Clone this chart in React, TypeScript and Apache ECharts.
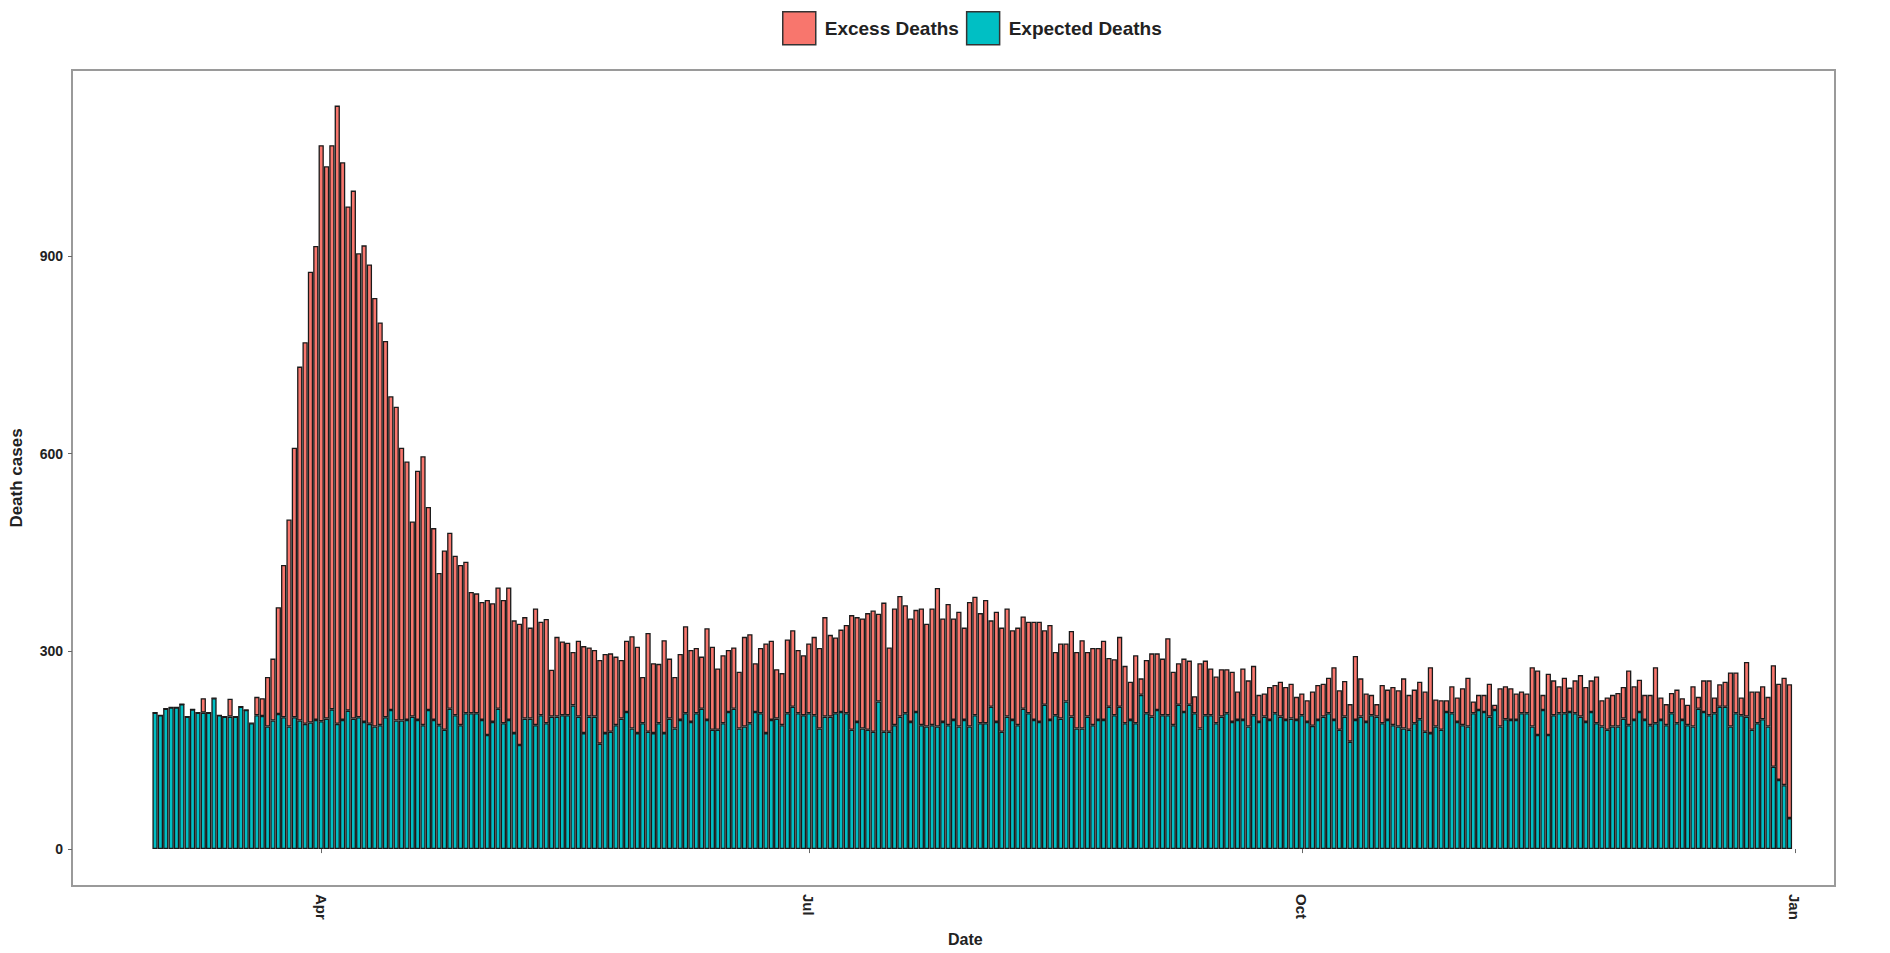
import React, { useEffect, useRef } from "react";
import * as echarts from "echarts";

// ---- data (daily, 2020-03-01 .. 2020-12-31) ----
const FIRST_DAY = "2020-03-01";
const PAD_BEFORE = 15;
const PAD_AFTER = 8;

const TICK_DATES = ["2020-04-01", "2020-07-01", "2020-10-01", "2021-01-01"];
const TICK_LABELS = ["Apr", "Jul", "Oct", "Jan"];
const Y_TICKS = [0, 300, 600, 900];

const EXPECTED = [
  207, 203, 213, 215, 215, 220, 201, 212, 207, 207, 207, 229, 203, 201, 201, 201, 216, 211, 191, 203, 202,
  186, 195, 205, 200, 186, 200, 195, 190, 192, 196, 194, 198, 212, 190, 196, 210, 198, 200, 193, 190, 186, 188, 200, 211, 195, 195,
  196, 201, 196, 188, 211, 196, 188, 181, 213, 203, 188, 206, 206, 206, 196, 173, 193, 213, 191, 196,
  176, 158, 198, 198, 188, 203, 191, 201, 201, 203, 203, 218, 201, 176, 201, 201, 160, 176, 178, 188,
  198, 208, 183, 176, 191, 178, 176, 191, 176, 198, 183, 196,
  206, 193, 206, 213, 196, 181, 181, 191, 208, 213, 183, 186, 191, 208, 206, 176, 196, 198, 188, 206,
  216, 206, 203, 206, 203, 183, 201, 201, 206, 208, 206, 181, 193, 183, 181, 178, 224, 178, 178, 188,
  201, 206, 193, 208, 188, 186, 188, 186, 193, 188, 196, 186,
  196, 186, 203, 191, 191, 216, 193, 178, 201, 196, 188, 213, 206, 196, 193, 219, 196, 203, 198, 224,
  201, 183, 183, 201, 188, 196, 196, 216, 203, 216, 191, 196, 191, 234, 206, 201, 211, 203, 203, 188,
  219, 208, 219, 206, 183, 203, 203, 191, 201, 206, 193, 196,
  196, 186, 203, 193, 201, 196, 206, 201, 196, 198, 196, 203, 193, 187, 196, 201, 206, 196, 181, 201,
  163, 196, 201, 193, 203, 201, 191, 196, 188, 186, 183, 181, 191, 197, 178, 176, 186, 181, 208, 206,
  193, 188, 186, 206, 211, 208, 201, 211, 186, 197, 196, 196,
  206, 206, 186, 173, 211, 173, 203, 206, 206, 208, 206, 201, 193, 208, 191, 186, 181, 186, 186, 198,
  188, 196, 208, 196, 188, 191, 196, 188, 206, 191, 196, 188, 186, 213, 208, 203, 206, 216, 216, 186,
  206, 203, 201, 181, 191, 197, 186, 125, 105, 97, 47,
];

const EXCESS = [
  0, 0, 0, 0, 0, 0, 0, 0, 0, 22, 0, 0, 0, 0, 27, 0, 0, 0, 0, 28, 27,
  75, 94, 162, 231, 314, 409, 537, 579, 684, 719, 874, 838, 856, 938, 846, 765, 801, 704, 723, 697, 650, 611, 571, 476, 476, 414,
  392, 296, 378, 408, 308, 291, 231, 272, 267, 242, 243, 230, 184, 182, 179, 205, 180, 184, 187, 201,
  171, 184, 154, 138, 177, 142, 158, 71, 121, 112, 110, 81, 115, 132, 105, 101, 127, 120, 119, 104,
  89, 108, 140, 131, 70, 150, 106, 90, 141, 91, 78, 100,
  132, 109, 99, 79, 139, 126, 93, 103, 94, 93, 86, 136, 135, 74, 99, 136, 120, 75, 79, 112,
  116, 96, 91, 106, 119, 122, 151, 124, 115, 125, 134, 174, 159, 167, 177, 184, 133, 196, 128, 177,
  183, 164, 157, 155, 177, 156, 177, 210, 157, 184, 154, 174,
  140, 189, 180, 167, 187, 131, 167, 158, 164, 136, 148, 140, 139, 149, 152, 113, 144, 96, 114, 88,
  130, 116, 134, 98, 117, 109, 120, 74, 85, 106, 87, 58, 103, 25, 81, 96, 86, 86, 117, 81,
  63, 81, 67, 26, 99, 83, 71, 71, 72, 67, 76, 43,
  78, 70, 75, 41, 35, 50, 43, 53, 50, 53, 35, 33, 33, 52, 53, 50, 54, 80, 60, 54,
  57, 97, 58, 43, 31, 19, 58, 46, 58, 55, 76, 53, 51, 57, 61, 100, 41, 45, 18, 41,
  37, 56, 74, 18, 23, 26, 50, 8, 58, 50, 48, 40,
  33, 30, 90, 98, 23, 93, 53, 41, 54, 37, 50, 63, 53, 48, 71, 40, 49, 48, 51, 48,
  83, 51, 49, 38, 46, 85, 34, 32, 31, 51, 33, 31, 61, 18, 48, 53, 24, 34, 38, 82,
  62, 27, 83, 58, 48, 50, 45, 154, 146, 163, 203,
];

const FONT = "'Liberation Sans', Arial, Helvetica, sans-serif";
const DAY_MS = 86400000;

function buildCategories(): string[] {
  const out: string[] = [];
  const start = Date.parse(FIRST_DAY + "T00:00:00Z") - PAD_BEFORE * DAY_MS;
  const n = PAD_BEFORE + EXPECTED.length + PAD_AFTER;
  for (let i = 0; i < n; i++) {
    out.push(new Date(start + i * DAY_MS).toISOString().slice(0, 10));
  }
  return out;
}

function pad(values: number[]): (number | string)[] {
  const before: string[] = new Array(PAD_BEFORE).fill("-");
  const after: string[] = new Array(PAD_AFTER).fill("-");
  return [...before, ...values, ...after];
}

export default function App() {
  const ref = useRef<HTMLDivElement>(null);

  useEffect(() => {
    if (!ref.current) return;
    const chart = echarts.init(ref.current, undefined, { renderer: "svg" });
    const categories = buildCategories();
    const showTick = (_index: number, value: string) => TICK_DATES.indexOf(value) >= 0;

    chart.setOption({
      animation: false,
      backgroundColor: "#ffffff",
      textStyle: { fontFamily: FONT },
      legend: {
        data: ["Excess Deaths", "Expected Deaths"],
        left: 777,
        top: 6,
        icon: "rect",
        itemWidth: 33,
        itemHeight: 33,
        itemGap: 7,
        itemStyle: { borderColor: "#333333", borderWidth: 1.5 },
        textStyle: {
          fontFamily: FONT,
          fontSize: 19,
          fontWeight: "bold",
          color: "#222222",
          padding: [0, 0, 0, 4],
        },
      },
      grid: {
        left: 64,
        top: 70,
        width: 1771,
        height: 816,
        show: true,
        borderColor: "#9a9a9a",
        borderWidth: 2,
        backgroundColor: "transparent",
      },
      xAxis: {
        type: "category",
        data: categories,
        boundaryGap: true,
        axisLine: { show: false },
        axisTick: {
          show: true,
          interval: showTick,
          alignWithLabel: true,
          length: 4,
          lineStyle: { color: "#666666" },
        },
        axisLabel: {
          interval: showTick,
          rotate: -90,
          margin: 8,
          fontFamily: FONT,
          fontSize: 15,
          fontWeight: "bold",
          color: "#222222",
          formatter: (v: string) => {
            const i = TICK_DATES.indexOf(v);
            return i >= 0 ? TICK_LABELS[i] : "";
          },
        },
        splitLine: { show: false },
      },
      yAxis: {
        type: "value",
        min: -56,
        max: 1182,
        axisLine: { show: false },
        axisTick: {
          show: true,
          customValues: Y_TICKS,
          length: 4,
          lineStyle: { color: "#666666" },
        },
        axisLabel: {
          customValues: Y_TICKS,
          margin: 9,
          fontFamily: FONT,
          fontSize: 14,
          fontWeight: "bold",
          color: "#222222",
        },
        splitLine: { show: false },
        name: "Death cases",
        nameLocation: "middle",
        nameRotate: 90,
        nameGap: 47,
        nameTextStyle: { fontFamily: FONT, fontSize: 17, fontWeight: "bold", color: "#222222" },
      },
      graphic: [
        {
          type: "text",
          left: 948,
          top: 931,
          style: {
            text: "Date",
            font: "bold 16px " + FONT,
            fill: "#222222",
          },
        },
      ],
      series: [
        {
          name: "Expected Deaths",
          type: "bar",
          stack: "deaths",
          data: pad(EXPECTED),
          barCategoryGap: "2%",
          itemStyle: { color: "#00BFC4", borderColor: "#1a1a1a", borderWidth: 1.3 },
        },
        {
          name: "Excess Deaths",
          type: "bar",
          stack: "deaths",
          data: pad(EXCESS),
          barCategoryGap: "2%",
          itemStyle: { color: "#F8766D", borderColor: "#1a1a1a", borderWidth: 1.3 },
        },
      ],
    });

    return () => chart.dispose();
  }, []);

  return (
    <div
      ref={ref}
      style={{ position: "fixed", left: 0, top: 0, width: 1890, height: 953, background: "#fff" }}
    />
  );
}
